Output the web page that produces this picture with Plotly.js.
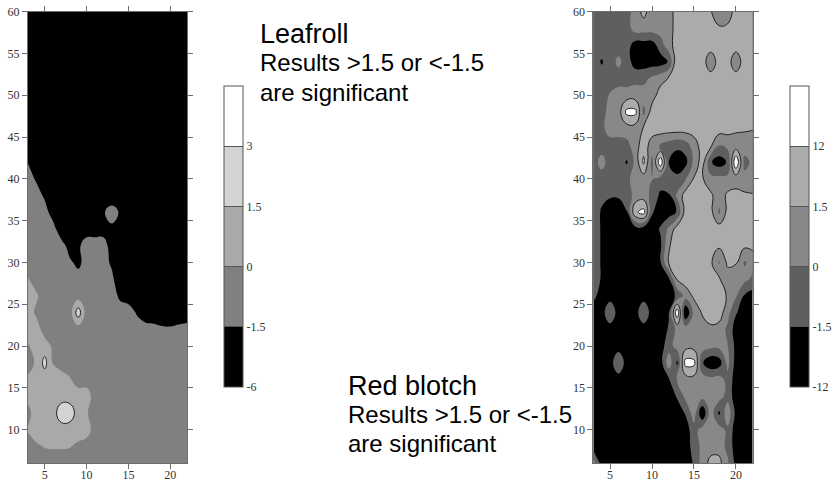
<!DOCTYPE html>
<html><head><meta charset="utf-8">
<script src="https://cdn.plot.ly/plotly-3.0.1.min.js"></script>
<style>html,body{margin:0;padding:0;background:#fff}#chart{width:833px;height:487px}</style>
</head><body><div id="chart"></div>
<script>
// grid of sampling positions (rows listed from top y=60 down to y=6)
const gridX = [3,4,5,6,7,8,9,10,11,12,13,14,15,16,17,18,19,20,21,22];
const gridY = [60,58,56,54,52,50,48,46,44,42,40,38,36,34,32,30,28,26,24,22,20,18,16,14,12,10,8,6];
const xTicks = [5,10,15,20];
const yTicks = [10,15,20,25,30,35,40,45,50,55,60];

// Leafroll values (estimated from the contour picture)
const leafrollZ = [
[-3.75,-3.75,-3.75,-3.75,-3.75,-3.75,-3.75,-3.75,-3.75,-3.75,-3.75,-3.75,-3.75,-3.75,-3.75,-3.75,-3.75,-3.75,-3.75,-3.75],
[-3.75,-3.75,-3.75,-3.75,-3.75,-3.75,-3.75,-3.75,-3.75,-3.75,-3.75,-3.75,-3.75,-3.75,-3.75,-3.75,-3.75,-3.75,-3.75,-3.75],
[-3.75,-3.75,-3.75,-3.75,-3.75,-3.75,-3.75,-3.75,-3.75,-3.75,-3.75,-3.75,-3.75,-3.75,-3.75,-3.75,-3.75,-3.75,-3.75,-3.75],
[-3.75,-3.75,-3.75,-3.75,-3.75,-3.75,-3.75,-3.75,-3.75,-3.75,-3.75,-3.75,-3.75,-3.75,-3.75,-3.75,-3.75,-3.75,-3.75,-3.75],
[-3.75,-3.75,-3.75,-3.75,-3.75,-3.75,-3.75,-3.75,-3.75,-3.75,-3.75,-3.75,-3.75,-3.75,-3.75,-3.75,-3.75,-3.75,-3.75,-3.75],
[-3.75,-3.75,-3.75,-3.75,-3.75,-3.75,-3.75,-3.75,-3.75,-3.75,-3.75,-3.75,-3.75,-3.75,-3.75,-3.75,-3.75,-3.75,-3.75,-3.75],
[-3.75,-3.75,-3.75,-3.75,-3.75,-3.75,-3.75,-3.75,-3.75,-3.75,-3.75,-3.75,-3.75,-3.75,-3.75,-3.75,-3.75,-3.75,-3.75,-3.75],
[-3.75,-3.75,-3.75,-3.75,-3.75,-3.75,-3.75,-3.75,-3.75,-3.75,-3.75,-3.75,-3.75,-3.75,-3.75,-3.75,-3.75,-3.75,-3.75,-3.75],
[-3.75,-3.75,-3.75,-3.75,-3.75,-3.75,-3.75,-3.75,-3.75,-3.75,-3.75,-3.75,-3.75,-3.75,-3.75,-3.75,-3.75,-3.75,-3.75,-3.75],
[-1.7,-3.75,-3.75,-3.75,-3.75,-3.75,-3.75,-3.75,-3.75,-3.75,-3.75,-3.75,-3.75,-3.75,-3.75,-3.75,-3.75,-3.75,-3.75,-3.75],
[-0.75,-2.2,-3.75,-3.75,-3.75,-3.75,-3.75,-3.75,-3.75,-3.75,-3.75,-3.75,-3.75,-3.75,-3.75,-3.75,-3.75,-3.75,-3.75,-3.75],
[-0.75,-0.75,-2.4,-3.75,-3.75,-3.75,-3.75,-3.75,-3.75,-3.75,-4.2,-3.75,-3.75,-3.75,-3.75,-3.75,-3.75,-3.75,-3.75,-3.75],
[-0.75,-0.75,-0.75,-4.2,-3.75,-3.75,-3.75,-3.75,-3.75,-1.95,-0.9,-1.95,-3.75,-3.75,-3.75,-3.75,-3.75,-3.75,-3.75,-3.75],
[-0.75,-0.75,-0.75,-0.75,-5.5,-3.75,-3.75,-3.75,-3.75,-3.75,-2.4,-3.75,-3.75,-3.75,-3.75,-3.75,-3.75,-3.75,-3.75,-3.75],
[-0.75,-0.75,-0.75,-0.75,-0.75,-3.75,-2.4,-0.75,-0.75,-0.75,-3.75,-3.75,-3.75,-3.75,-3.75,-3.75,-3.75,-3.75,-3.75,-3.75],
[-0.75,-0.75,-0.75,-0.75,-0.75,-1.2,-2.85,-0.75,-0.75,-0.75,-2.4,-3.75,-3.75,-3.75,-3.75,-3.75,-3.75,-3.75,-3.75,-3.75],
[0.08,-0.75,-0.75,-0.75,-0.75,-0.75,-0.75,-0.75,-0.75,-0.75,-1.05,-5.5,-3.75,-3.75,-3.75,-3.75,-3.75,-3.75,-3.75,-3.75],
[0.75,0.22,-0.75,-0.75,-0.75,-0.75,-0.75,-0.75,-0.75,-0.75,-0.75,-2.4,-3.75,-3.75,-3.75,-3.75,-3.75,-3.75,-3.75,-3.75],
[0.75,-0.3,-0.75,-0.75,-0.75,-0.75,2.4,-0.75,-0.75,-0.75,-0.75,-0.75,-0.75,-1.95,-3.75,-3.75,-3.75,-3.75,-3.75,-3.75],
[0.75,0.75,-0.75,-0.75,-0.75,-0.75,-0.75,-0.75,-0.75,-0.75,-0.75,-0.75,-0.75,-0.75,-0.98,-1.12,-1.32,-1.35,-1.2,-1.05],
[-0.15,0.75,0.75,-0.3,-0.75,-0.75,-0.75,-0.75,-0.75,-0.75,-0.75,-0.75,-0.75,-0.75,-0.75,-0.75,-0.75,-0.75,-0.75,-0.75],
[-0.75,0.3,1.95,-0.08,-0.75,-0.75,-0.75,-0.75,-0.75,-0.75,-0.75,-0.75,-0.75,-0.75,-0.75,-0.75,-0.75,-0.75,-0.75,-0.75],
[0.3,0.75,0.75,0.75,0.75,0.15,-0.75,-0.75,-0.75,-0.75,-0.75,-0.75,-0.75,-0.75,-0.75,-0.75,-0.75,-0.75,-0.75,-0.75],
[0.45,0.75,0.75,0.75,0.75,0.75,0.75,0.75,-0.75,-0.75,-0.75,-0.75,-0.75,-0.75,-0.75,-0.75,-0.75,-0.75,-0.75,-0.75],
[-0.45,0.75,0.75,0.75,2.55,2.4,0.75,0.15,-0.75,-0.75,-0.75,-0.75,-0.75,-0.75,-0.75,-0.75,-0.75,-0.75,-0.75,-0.75],
[0.15,0.75,0.75,0.75,0.75,0.75,0.75,0.75,-0.75,-0.75,-0.75,-0.75,-0.75,-0.75,-0.75,-0.75,-0.75,-0.75,-0.75,-0.75],
[-0.75,-0.22,0.08,0.15,0.15,0.08,-0.3,-0.75,-0.75,-0.75,-0.75,-0.75,-0.75,-0.75,-0.75,-0.75,-0.75,-0.75,-0.75,-0.75],
[-0.75,-0.75,-0.75,-0.75,-0.75,-0.75,-0.75,-0.75,-0.75,-0.75,-0.75,-0.75,-0.75,-0.75,-0.75,-0.75,-0.75,-0.75,-0.75,-0.75]
];

// Red blotch values (estimated from the contour picture)
const redBlotchZ = [
[-0.75,-0.75,-0.75,-0.75,-0.75,0.75,4.65,0.75,0.75,0.75,6.75,6.75,6.75,6.75,2.03,0.75,0.9,4.65,6.75,6.75],
[-0.75,-0.75,-0.75,-0.75,-0.75,0.75,0.75,0.75,0.75,0.75,6.75,6.75,6.75,6.75,6.75,2.55,3.08,6.75,6.75,6.75],
[-0.75,-0.75,-0.75,-0.75,-0.75,-6.75,-6.75,-6.75,-0.75,0.9,6.75,6.75,6.75,6.75,6.75,6.75,6.75,6.75,6.75,6.75],
[-0.75,-2.55,-0.75,0.38,-0.75,-6.75,-6.75,-6.75,-6.75,-1.35,10.95,6.75,6.75,6.75,0.45,6.75,6.75,0.45,6.75,6.75],
[-0.75,-0.75,-0.75,-0.75,-0.75,-0.45,-0.45,0.3,0.9,2.55,6.75,6.75,6.75,6.75,6.75,6.75,6.75,6.75,6.75,6.75],
[-0.75,-0.75,0.15,0.75,0.75,0.75,0.75,0.75,6.75,6.75,6.75,6.75,6.75,6.75,6.75,6.75,6.75,6.75,6.75,6.75],
[-0.75,-0.45,0.45,0.75,15.6,15.6,-0.45,6.75,6.75,6.75,6.75,6.75,6.75,6.75,6.75,6.75,6.75,6.75,6.75,6.75],
[-0.75,-0.45,0.75,0.75,0.75,0.75,2.55,6.75,6.75,6.75,6.75,6.75,6.75,6.75,6.75,6.75,5.7,3.6,2.76,2.13],
[-0.75,-0.75,-0.75,-0.75,-0.45,0.75,7.8,0.75,-0.08,-0.75,-1.2,-0.75,0.75,6.75,3.6,-0.08,0.45,0.6,0.75,0.75],
[-0.75,0.6,-0.75,-0.75,-2.55,0.45,14.4,-0.45,21.6,-2.03,-6.75,-4.65,0.45,6.75,-1.35,-6.75,-1.35,23.4,-0.45,0.3],
[-0.75,-0.75,-0.75,-0.75,-0.45,0.75,0.75,0.08,-0.75,-0.9,-1.2,-0.15,2.55,2.55,0.45,0.45,0.45,0.6,0.45,0.45],
[-0.75,-1.2,-1.35,-1.35,-0.9,0.6,0.75,-0.45,-3.6,-2.55,0.3,6.75,6.75,6.75,3.6,0.6,3.6,5.7,3.6,2.55],
[-0.75,-2.55,-6.75,-6.75,-2.03,9.9,16.8,-1.35,-6.75,-6.75,-1.35,6.75,6.75,6.75,4.65,-0.23,4.65,6.75,6.75,6.75],
[-0.75,-2.55,-6.75,-6.75,-6.75,-6.75,-6.75,-6.75,-1.35,0.3,6.75,6.75,6.75,6.75,6.75,6.75,6.75,6.75,6.75,6.75],
[-0.75,-2.55,-6.75,-6.75,-6.75,-6.75,-6.75,-6.75,-3.6,1.35,6.75,6.75,6.75,6.75,6.75,3.6,6.75,6.75,3.6,4.65],
[-0.75,-2.55,-6.75,-6.75,-6.75,-6.75,-6.75,-6.75,-2.55,2.55,6.75,6.75,6.75,6.75,3.6,-0.15,3.6,2.55,-0.15,0.45],
[-0.75,-2.55,-6.75,-6.75,-6.75,-6.75,-6.75,-6.75,-6.75,-3.6,2.55,6.75,6.75,6.75,6.75,2.55,0.75,0.75,0.45,-0.3],
[-1.05,-6.75,-6.75,-6.75,-6.75,-6.75,-6.75,-6.75,-6.75,-6.75,-1.2,0.6,3.6,6.75,6.75,6.75,1.35,0.15,-2.55,-6.75],
[-6.75,-6.75,-0.15,-6.75,-6.75,-6.75,-0.15,-6.75,-6.75,-2.55,21.6,-12,0.45,2.55,6.75,6.75,0.6,-1.35,-6.75,-6.75],
[-6.75,-6.75,-6.75,-6.75,-6.75,-6.75,-6.75,-6.75,-6.75,-1.35,0.45,0.75,0.75,0.9,1.2,0.9,-0.3,-6.75,-6.75,-6.75],
[-6.75,-6.75,-6.75,-6.75,-6.75,-6.75,-6.75,-6.75,-6.75,-0.6,0.6,0.9,0.9,0.75,0.45,0.45,0.08,-4.65,-6.75,-6.75],
[-6.75,-6.75,-6.75,-0.15,-6.75,-6.75,-6.75,-6.75,-6.75,0.9,-3.6,16.8,15.6,-1.35,-9.9,-6.75,0.45,-5.7,-6.75,-6.75],
[-6.75,-6.75,-6.75,-6.75,-6.75,-6.75,-6.75,-6.75,-6.75,-2.55,0.08,0.75,0.9,0.75,0.45,0.6,-0.45,-6.75,-6.75,-6.75],
[-6.75,-6.75,-6.75,-6.75,-6.75,-6.75,-6.75,-6.75,-6.75,-6.75,-1.35,0.45,0.75,0.6,0.75,0.75,-0.6,-6.75,-6.75,-6.75],
[-6.75,-6.75,-6.75,-6.75,-6.75,-6.75,-6.75,-6.75,-6.75,-6.75,-6.75,-1.35,0.9,-12,0.9,-3.6,1.05,-4.65,-6.75,-6.75],
[-6.75,-6.75,-6.75,-6.75,-6.75,-6.75,-6.75,-6.75,-6.75,-6.75,-6.75,-6.75,-0.6,0.6,0.75,0.6,-0.3,-6.75,-6.75,-6.75],
[-6.75,-6.75,-6.75,-6.75,-6.75,-6.75,-6.75,-6.75,-6.75,-6.75,-6.75,-6.75,-0.9,0.45,0.9,0.9,-0.45,-6.75,-6.75,-6.75],
[0.75,-6.75,-6.75,-6.75,-6.75,-6.75,-6.75,-6.75,-6.75,-6.75,-6.75,-6.75,-1.35,0.75,4.65,4.65,0.3,-4.65,-6.75,-6.75]
];

// colour-bar class edges (bottom .. top) and labels
const leafrollEdges = [-6, -1.5, 0, 1.5, 3, 6];
const leafrollTickText = ['-6', '-1.5', '0', '1.5', '3'];
const redBlotchEdges = [-12, -1.5, 0, 1.5, 12, 24];
const redBlotchTickText = ['-12', '-1.5', '0', '1.5', '12'];
const leafrollColors = ['#000000', '#808080', '#a9a9a9', '#d3d3d3', '#ffffff'];
const redBlotchColors = ['#000000', '#5f5f5f', '#888888', '#ababab', '#ffffff'];

const captionText = ['Leafroll', 'Results &gt;1.5 or &lt;-1.5', 'are significant',
                     'Red blotch', 'Results &gt;1.5 or &lt;-1.5', 'are significant'];

// map a value onto equal-height class bands (-2..3) so the colour bar shows equal bands
function bandIndex(v, edges) {
  for (let i = 0; i < edges.length - 2; i++) {
    if (v <= edges[i + 1]) return i - 2 + (v - edges[i]) / (edges[i + 1] - edges[i]);
  }
  const n = edges.length - 2;
  return n - 2 + (v - edges[n]) / (edges[n + 1] - edges[n]);
}
function stepScale(c) {
  return [[0, c[0]], [0.25, c[1]], [0.5, c[2]], [0.75, c[3]], [1, c[4]]];
}
const W = 833, H = 487;
const serif = '"Liberation Serif", "Times New Roman", serif';
const sans = '"Liberation Sans", Arial, sans-serif';
const yAsc = gridY.slice().reverse();

function panel(rows, edges, colors, tickText, xa, ya, cbLeftPx) {
  const z = rows.slice().reverse().map(r => r.map(v => bandIndex(v, edges)));
  return [
    {
      type: 'contour', x: gridX, y: yAsc, z: z, xaxis: xa, yaxis: ya,
      autocontour: false, zmin: -2, zmax: 3,
      contours: {start: -1, end: 2, size: 1, coloring: 'fill', showlines: false},
      colorscale: stepScale(colors),
      line: {width: 0, smoothing: 1.3},
      hoverinfo: 'skip',
      colorbar: {
        x: cbLeftPx / W, xanchor: 'left', y: 1 - 236.5 / H, yanchor: 'middle',
        len: 301, lenmode: 'pixels', thickness: 19, thicknessmode: 'pixels',
        xpad: 0, ypad: 0, outlinewidth: 1, outlinecolor: '#555',
        tickmode: 'array', tickvals: [-2, -1, 0, 1, 2], ticktext: tickText,
        ticks: 'inside', ticklen: 19, tickwidth: 1, tickcolor: '#555',
        tickfont: {family: serif, size: 12, color: '#333'}
      }
    },
    {
      type: 'contour', x: gridX, y: yAsc, z: z, xaxis: xa, yaxis: ya,
      autocontour: false,
      contours: {start: 1, end: 2, size: 1, coloring: 'none', showlines: true},
      line: {color: '#222', width: 1, smoothing: 1.3},
      showscale: false, hoverinfo: 'skip'
    }
  ];
}

const data = [].concat(
  panel(leafrollZ, leafrollEdges, leafrollColors, leafrollTickText, 'x', 'y', 224),
  panel(redBlotchZ, redBlotchEdges, redBlotchColors, redBlotchTickText, 'x2', 'y2', 790)
);

const axisStyle = {
  showline: true, linecolor: '#6e6e6e', linewidth: 1, mirror: 'ticks',
  ticks: 'outside', ticklen: 5, tickwidth: 1, tickcolor: '#6e6e6e',
  showgrid: false, zeroline: false, fixedrange: true, tickmode: 'array',
  tickfont: {family: serif, size: 12, color: '#333'}
};
const yDom = [1 - 463 / H, 1 - 11.7 / H];

const captionPos = [[258, 34, 27], [258, 62, 24], [258, 92, 24], [346, 386, 27], [346, 414, 24], [346, 443, 24]];
const annotations = captionText.map((t, i) => ({
  text: t, xref: 'paper', yref: 'paper', x: captionPos[i][0] / W, y: 1 - captionPos[i][1] / H,
  xanchor: 'left', yanchor: 'middle', showarrow: false,
  font: {family: sans, size: captionPos[i][2], color: '#000'}
}));

const layout = {
  width: W, height: H, margin: {l: 0, r: 0, t: 0, b: 0, autoexpand: false},
  paper_bgcolor: '#fff', plot_bgcolor: '#fff', showlegend: false,
  xaxis: Object.assign({}, axisStyle, {domain: [28 / W, 187 / W], range: [3, 22], tickvals: xTicks, anchor: 'y', ticklabelstandoff: -4}),
  yaxis: Object.assign({}, axisStyle, {domain: yDom, range: [6, 60], tickvals: yTicks, anchor: 'x'}),
  xaxis2: Object.assign({}, axisStyle, {domain: [593.3 / W, 752.7 / W], range: [3, 22], tickvals: xTicks, anchor: 'y2', ticklabelstandoff: -4}),
  yaxis2: Object.assign({}, axisStyle, {domain: yDom, range: [6, 60], tickvals: yTicks, anchor: 'x2'}),
  annotations: annotations
};

Plotly.newPlot('chart', data, layout, {displayModeBar: false, staticPlot: true});
</script>
</body></html>
